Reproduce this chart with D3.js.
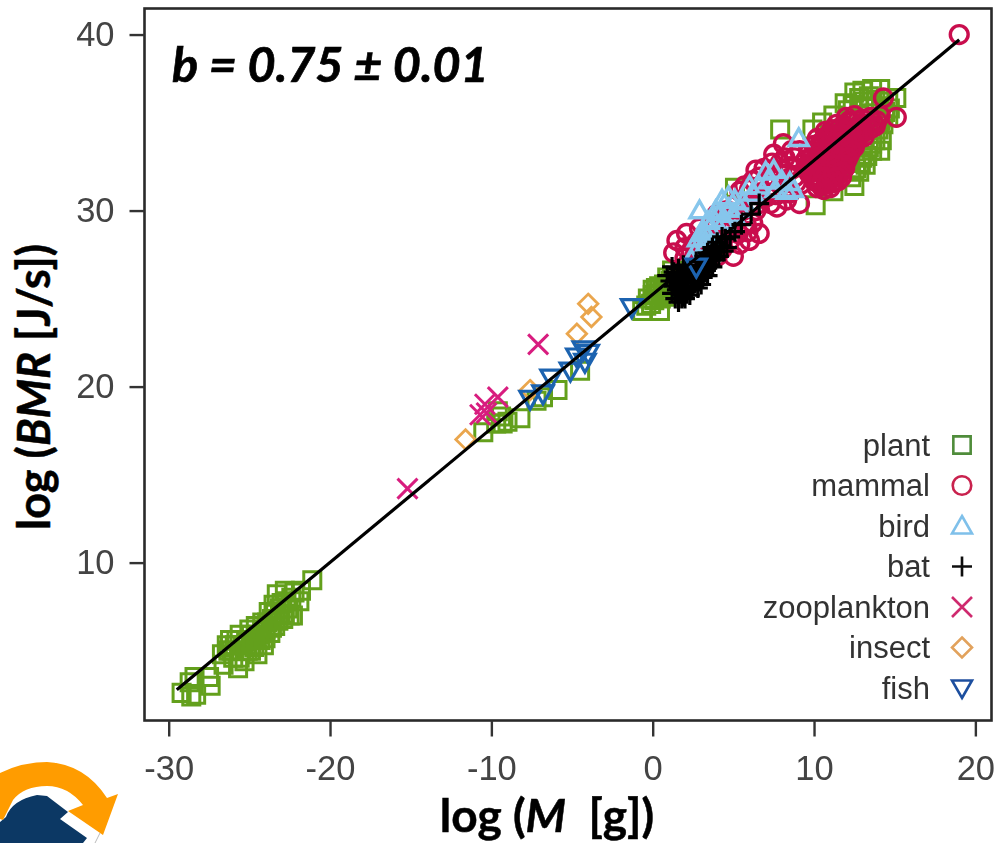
<html>
<script src="https://d3js.org/d3.v7.min.js"></script>
<style>
body{ margin:0; background:#fff; }
svg{ display:block; }
</style>
<div class="chart"></div>

<script>
const width = 1002;
const height = 843;
const margin = { top:8.5, left:144.5, bottom:122.5, right:10.5 };

const xTicks = [-30, -20, -10, 0, 10, 20];
const yTicks = [10, 20, 30, 40];
const fitLine = [[-29.5, 2.78], [19, 39.7]];
const legendNames = ['plant', 'mammal', 'bird', 'bat', 'zooplankton', 'insect', 'fish'];

const plant = [
  [-29.2,2.6],[-28.6,2.4],[-28.3,2.5],[-28.7,3.2],[-28.4,3.5],[-27.5,3.5],[-27.4,3.0],[-26.7,4.8],[-26.6,4.2],[-26.3,5.0],
  [-26.2,5.6],[-26.0,4.6],[-25.9,5.3],[-25.7,4.0],[-25.6,5.9],[-25.5,5.0],[-25.3,4.4],[-25.2,5.5],[-25.0,6.2],[-24.9,5.0],
  [-24.8,5.6],[-24.6,6.4],[-24.5,4.8],[-24.4,5.9],[-24.2,6.6],[-24.1,5.3],[-24.0,6.2],[-23.8,7.2],[-23.7,6.0],[-23.6,6.8],
  [-23.5,7.6],[-23.4,6.4],[-23.3,8.2],[-23.1,7.0],[-23.0,7.7],[-22.9,6.8],[-22.8,8.4],[-22.6,7.4],[-22.4,8.0],[-22.3,7.0],
  [-22.2,8.3],[-21.9,7.8],[-21.8,8.4],[-21.1,9.0],
  [-26.4,5.3],[-26.1,5.0],[-25.8,5.6],[-25.6,4.6],[-25.4,5.3],[-25.1,5.0],[-24.9,5.9],[-24.7,5.2],[-24.6,5.7],[-24.3,5.6],[-24.2,6.1],[-24.0,5.7],
  [-23.9,6.6],[-23.6,6.3],[-23.4,7.1],[-23.2,6.7],[-23.1,7.4],[-22.8,7.1],[-22.7,7.8],[-22.5,7.0],
  [-10.5,17.4],[-9.7,17.9],[-9.6,18.6],[-9.4,18.3],[-9.3,17.9],[-9.0,18.0],[-8.2,18.2],[-7.2,19.2],[-6.8,19.4],[-5.9,19.8],[-4.5,20.9],
  [-0.65,24.3],[0.45,24.3],[-0.4,24.6],[-0.3,25],[0,25.2],[0.1,24.9],[0.2,25.6],[0.5,25],[0.6,25.4],[0.7,25.8],[0.9,26.2],[1,25.4],[1.2,26.6],[1.4,26],
  [-0.1,24.7],[0.3,25.3],[0.4,25.7],[0.8,25.1],[0.9,25.6],[1.1,26],[0,25.5],
  [5.1,31.3],[7.9,34.6],[9.9,34.6],[10.5,35],[11.2,35.4],[11.9,36.1],[12.5,36.7],[12.4,36.0],[13,36.8],[13.1,36.2],[13.6,36.9],[13.8,36.3],[14.1,36.9],[14.6,36.2],[15.1,36.4],
  [12.5,31.4],[10.1,30.3],[11.2,31.1],[14.1,33.4],[13.6,33.4],[14.2,34.0],[13,33],[13.4,33.6],[13.8,34],[14,34.6],[14.3,34.9],[13.2,32.6],[12.8,32.2],[12.3,31.9],[14.4,35.6],[13.9,35.2],[14.6,35.3],
  [13.3,33.1],[13.6,33.8],[12.9,32.7],[12.6,32.4],[14.1,35.1],[14.7,35.8],[13.4,36.5],[12.8,36.4],[12.1,35.7]
];

const mammal = [
  [12.0,35.3],[12.5,35.4],[13.0,35.2],[13.5,35.3],[13.9,35.1],
  [11.4,34.9],[11.9,34.8],[12.3,35.0],[12.8,34.8],[13.2,34.9],[13.6,34.7],
  [10.7,34.5],[11.1,34.6],[11.6,34.4],[12.1,34.5],[12.5,34.3],[13.0,34.4],
  [10.2,34.1],[10.6,34.0],[11.0,34.2],[11.5,34.0],[11.9,34.1],[12.3,33.9],[12.7,34.0],
  [10.0,33.7],[10.4,33.6],[10.8,33.7],[11.2,33.6],[11.7,33.7],[12.1,33.5],[12.5,33.6],
  [9.7,33.3],[10.2,33.2],[10.6,33.3],[11.0,33.2],[11.5,33.3],[11.9,33.1],[12.2,33.2],
  [9.5,32.9],[10.0,32.8],[10.4,32.9],[10.8,32.8],[11.2,32.9],[11.6,32.7],[12.0,32.8],
  [9.5,32.5],[9.9,32.4],[10.3,32.5],[10.7,32.4],[11.1,32.5],[11.5,32.3],[11.9,32.4],
  [9.7,32.1],[10.1,32.0],[10.5,32.1],[10.9,32.0],[11.3,32.1],[11.7,31.9],
  [10.0,31.7],[10.4,31.6],[10.8,31.7],[11.2,31.6],[11.5,31.7],[10.2,31.3],[10.6,31.2],[11.0,31.3],
  [12.2,35.1],[12.7,35.1],[13.2,35.1],[13.7,35.0],[14.1,35.4],[11.6,34.7],[12.1,34.7],[12.6,34.6],[13.0,34.7],[13.4,34.6],[13.8,34.8],
  [10.9,34.3],[11.3,34.3],[11.8,34.3],[12.3,34.2],[12.7,34.3],[13.1,34.2],
  [10.4,33.85],[10.8,33.9],[11.3,33.85],[11.7,33.9],[12.1,33.8],[12.5,33.85],
  [10.2,33.5],[10.6,33.45],[11.0,33.5],[11.4,33.45],[11.9,33.5],[12.3,33.4],
  [9.9,33.05],[10.4,33.05],[10.8,33.05],[11.2,33.05],[11.7,33.0],[12.1,33.0],
  [9.7,32.65],[10.2,32.65],[10.6,32.65],[11.0,32.65],[11.4,32.6],[11.8,32.6],
  [9.7,32.3],[10.1,32.25],[10.5,32.3],[10.9,32.25],[11.3,32.3],[11.7,32.2],
  [9.9,31.9],[10.3,31.85],[10.7,31.9],[11.1,31.85],[11.4,31.9],[10.4,31.45],[10.8,31.5],
  [14.3,36.4],[15.1,35.3],[19,40],
  [9.1,33.4],[8.8,33.0],[8.1,33.8],[7.5,33.2],[8.5,32.5],[8.0,32.3],[7.4,32.7],[6.9,32.4],[6.4,32.3],[7.6,31.8],[6.9,31.6],[6.2,31.7],[5.7,31.4],[5.4,31.1],
  [8.9,31.6],[8.3,31.3],[7.7,30.9],[7.1,30.8],[9.1,30.4],[8.3,30.6],[7.7,30.2],[6.6,30.4],[6.0,30.4],[5.2,30.4],[4.6,30.0],[4.0,29.8],
  [8.6,33.4],[8.2,33.0],[7.9,32.7],[8.3,32.1],[8.8,31.9],[9.2,31.5],[8.5,31.0],[7.2,32.0],[6.6,31.9],[6.0,31.2],[6.6,31.0],[7.3,30.4],[6.4,30.0],[5.6,30],[5.0,29.6],[4.4,29.4],[3.8,29.2],
  [3.2,28.6],[2.6,28.0],[2.0,27.3],[2.5,26.9],[3.0,27.6],[3.6,27.6],[4.3,27.8],[4.8,28.3],[5.3,28.7],[6.2,29.3],[5.9,28.8],
  [6.6,28.7],[6.0,28.3],[5.4,28.1],[5.8,29.2],[5.0,29.1],[4.4,28.8],[3.7,28.9],[2.9,29.0],[2.1,28.7],[1.5,28.3],[1.3,27.6],[2.0,27.9],[2.7,28.2],[3.3,28.0],[4.0,28.0],[5.0,27.4],[4.0,27.4],[3.4,27.2],[2.6,27.4]
];

const bird = [
  [2.9,30],[9.05,34.1],[7.5,32.3],[7.2,31.7],[6.6,31.4],[8.0,31.7],[8.5,31.6],[7.6,31.2],[6.2,31.0],[5.6,30.5],[5.1,30.6],[4.7,30.1],
  [4.2,29.9],[3.8,29.5],[3.4,29.4],[4.4,29.4],[5.0,29.8],[3.2,28.8],[2.8,28.4],[3.3,28.1],[2.6,27.6],[2.9,27.2],[2.4,27.2],
  [3.9,30.0],[4.3,30.6],[4.7,30.8],[3.5,29.0],[3.0,28.7],[3.4,28.5],[5.4,30.1],[6.0,31.4],[7.0,32.2],[8.3,31.1],[8.7,31.2]
];

const bat = [
  [0.9,26.3],[1.1,26],[1.3,26.5],[1.3,25.7],[1.5,26.2],[1.5,25.5],[1.6,26.7],[1.7,25.3],[1.7,25.9],[1.8,26.4],[1.9,25.1],[1.9,25.7],[2.0,26.1],[2.1,25.4],[2.1,26.6],
  [2.2,25.9],[2.3,25.2],[2.4,26.3],[2.5,25.7],[2.6,26.0],[2.7,26.6],[2.9,26.2],[3.0,26.8],[3.2,26.5],[3.3,27.1],[3.5,26.9],[3.6,27.5],[3.8,27.2],[3.9,27.7],[4.1,27.4],
  [4.2,28.0],[4.4,27.7],[4.5,28.4],[5.1,28.8],[5.5,29.2],[6.1,29.8],[6.6,30.4],
  [1.4,25.0],[1.6,24.8],[1.8,25.0],[2.0,25.0],[1.2,25.3],[1.4,26],[1.6,25.6],[1.8,25.5],[2.0,25.4],[2.2,25.6],[2.4,25.5],[2.6,25.9],[2.4,26.0],[2.6,26.4],[2.8,26.0],
  [2.3,26.6],[2.9,26.5],[3.1,26.2],[3.3,26.6],[3.4,26.3],[3.5,27.2],[3.7,26.8],[3.9,27.2],[3.1,27.1],[2.7,27.1],[2.8,25.6],[3.0,25.8],[1.9,26.9],[1.2,26.8],
  [3.4,27.6],[3.7,27.9],[4.0,28.2],[4.3,28.5],[4.6,27.9],[4.8,28.5],[3.2,27.4]
];

const zooplankton = [[-15.2,14.2],[-7.1,22.4],[-9.6,19.4],[-10.4,19],[-10.7,18.4],[-10.3,18.5]];
const insect = [[-11.6,17],[-4,24.7],[-3.8,23.95],[-4.7,23],[-7.6,19.8]];
const fish = [[-1.3,24.5],[-4.3,22.1],[-4.0,21.9],[-4.7,21.7],[-4.2,21.4],[-5.1,20.9],[-6.3,20.5],[-6.8,19.6],[-7.6,19.3],[2.7,26.8]];

const x = d3.scaleLinear().domain([-31.5, 21]).range([margin.left, width - margin.right]);
const y = d3.scaleLinear().domain([1.03, 41.48]).range([height - margin.bottom, margin.top]);

// d3 has no outline plus or x, so these are small custom symbol types
const plus = { draw(ctx, size){ const r = Math.sqrt(size)/2; ctx.moveTo(-r,0); ctx.lineTo(r,0); ctx.moveTo(0,-r); ctx.lineTo(0,r); } };
const cross = { draw(ctx, size){ const r = Math.sqrt(size)/2; ctx.moveTo(-r,-r); ctx.lineTo(r,r); ctx.moveTo(-r,r); ctx.lineTo(r,-r); } };
const diamond = { draw(ctx, size){ const r = Math.sqrt(size)/2; ctx.moveTo(0,-r); ctx.lineTo(r,0); ctx.lineTo(0,r); ctx.lineTo(-r,0); ctx.closePath(); } };
const triangleUp = { draw(ctx, size){ const r = Math.sqrt(size)/2; ctx.moveTo(0,-r); ctx.lineTo(r,r*0.75); ctx.lineTo(-r,r*0.75); ctx.closePath(); } };
const triangleDown = { draw(ctx, size){ const r = Math.sqrt(size)/2; ctx.moveTo(0,r); ctx.lineTo(r,-r*0.75); ctx.lineTo(-r,-r*0.75); ctx.closePath(); } };

const series = [
  { name:'plant', data:plant, type:d3.symbolSquare, size:290, color:'#64a01e', key:'#4f8c3a', sw:3 },
  { name:'mammal', data:mammal, type:d3.symbolCircle, size:250, color:'#c9104e', key:'#c9204e', sw:3.4 },
  { name:'bird', data:bird, type:triangleUp, size:360, color:'#86c6ec', key:'#7fc0ea', sw:3.4 },
  { name:'bat', data:bat, type:plus, size:400, color:'#000', key:'#111', sw:3.2 },
  { name:'zooplankton', data:zooplankton, type:cross, size:400, color:'#d81f7f', key:'#cf2a6e', sw:3 },
  { name:'insect', data:insect, type:diamond, size:380, color:'#eaa64e', key:'#e2a25c', sw:2.8 },
  { name:'fish', data:fish, type:triangleDown, size:420, color:'#1f64b0', key:'#1f4f9f', sw:3.2 }
];

const svg = d3.select('.chart').append('svg')
  .attr('width', width)
  .attr('height', height);

svg.append('defs').append('filter')
    .attr('id', 'soft')
  .append('feGaussianBlur')
    .attr('stdDeviation', 0.55);

// logo fragment in the bottom corner
const logo = svg.append('g').attr('class', 'logo');
logo.append('path').attr('d', 'M0,838L8,838L4,843L0,843Z').attr('fill', '#b5c334');
logo.append('path').attr('d', 'M100,833L95,843').attr('stroke', '#bbb').attr('fill', 'none');
logo.append('path').attr('d', 'M0,777L4,775L6,781L0,785Z').attr('fill', '#0c3864');
logo.append('path').attr('d', 'M0,843L0,822L6,817Q12,800 37,795L47,796L68,812L60,819L87,838L83,843Z').attr('fill', '#0c3864');
logo.append('path')
  .attr('d', 'M0,773Q22,762 47,762Q85,764 107,798L118,794L103,835L68,811L83,805Q68,786 47,786Q24,786 13,800L3,820L0,819Z')
  .attr('fill', '#ff9c00');

const marks = svg.append('g').attr('class', 'marks').attr('filter', 'url(#soft)');

series.forEach(s => {
  marks.append('g')
      .attr('class', s.name)
    .selectAll('path')
    .data(s.data)
    .enter()
    .append('path')
      .attr('d', d3.symbol().type(s.type).size(s.size))
      .attr('transform', d => `translate(${x(d[0])},${y(d[1])})`)
      .attr('fill', 'none')
      .attr('stroke', s.color)
      .attr('stroke-width', s.sw);
});

marks.append('path')
  .attr('d', d3.line().x(d => x(d[0])).y(d => y(d[1]))(fitLine))
  .attr('fill', 'none')
  .attr('stroke', '#000')
  .attr('stroke-width', 3.2);

svg.append('rect')
  .attr('x', margin.left)
  .attr('y', margin.top)
  .attr('width', width - margin.left - margin.right)
  .attr('height', height - margin.top - margin.bottom)
  .attr('fill', 'none')
  .attr('stroke', '#2a2a2a')
  .attr('stroke-width', 2.6);

const xAxis = svg.append('g')
  .attr('transform', `translate(0,${height - margin.bottom})`)
  .call(d3.axisBottom(x).tickValues(xTicks).tickFormat(d => String(d)).tickSize(16).tickPadding(19));
const yAxis = svg.append('g')
  .attr('transform', `translate(${margin.left},0)`)
  .call(d3.axisLeft(y).tickValues(yTicks).tickSize(15).tickPadding(15));

[xAxis, yAxis].forEach(a => {
  a.select('.domain').remove();
  a.selectAll('line').attr('stroke', '#333').attr('stroke-width', 2.4);
  a.selectAll('text')
    .attr('fill', '#444')
    .style('font-family', '"Liberation Sans", sans-serif')
    .style('font-size', '34.5px');
});

// legend
const legendY = d3.scalePoint().domain(legendNames).range([445, 688]);
const legend = svg.append('g').attr('class', 'legend').attr('filter', 'url(#soft)');

series.forEach(s => {
  legend.append('text')
    .attr('x', 930)
    .attr('y', legendY(s.name))
    .attr('dy', '0.35em')
    .attr('text-anchor', 'end')
    .attr('fill', '#333')
    .style('font-family', '"Liberation Sans", sans-serif')
    .style('font-size', '31px')
    .text(s.name);
  legend.append('path')
    .attr('d', d3.symbol().type(s.type).size(s.name == 'plant' ? 300 : s.name == 'mammal' ? 270 : 400))
    .attr('transform', `translate(962,${legendY(s.name)})`)
    .attr('fill', 'none')
    .attr('stroke', s.key)
    .attr('stroke-width', 2.6);
});

// titles
const boldFont = 'Lato, "Open Sans", sans-serif';

svg.append('text')
  .attr('x', 172)
  .attr('y', 82)
  .attr('fill', '#000')
  .attr('stroke', '#000')
  .attr('stroke-width', 0.7)
  .style('font-family', boldFont)
  .style('font-weight', 700)
  .style('font-style', 'italic')
  .style('font-size', '48.5px')
  .text('b = 0.75 ± 0.01');

const xTitle = svg.append('text')
  .attr('x', 547)
  .attr('y', 832)
  .attr('text-anchor', 'middle')
  .attr('stroke', '#000')
  .attr('stroke-width', 0.5)
  .style('white-space', 'pre')
  .style('font-family', boldFont)
  .style('font-weight', 700)
  .style('font-size', '46px');
xTitle.append('tspan').text('log (');
xTitle.append('tspan').style('font-style', 'italic').text('M');
xTitle.append('tspan').text('  [g])');

const yTitle = svg.append('text')
  .attr('transform', 'translate(50,387) rotate(-90)')
  .attr('text-anchor', 'middle')
  .attr('stroke', '#000')
  .attr('stroke-width', 0.5)
  .style('font-family', boldFont)
  .style('font-weight', 700)
  .style('font-size', '45px');
yTitle.append('tspan').text('log (');
yTitle.append('tspan').style('font-style', 'italic').text('BMR');
yTitle.append('tspan').text(' [J/s])');
</script>
</html>
